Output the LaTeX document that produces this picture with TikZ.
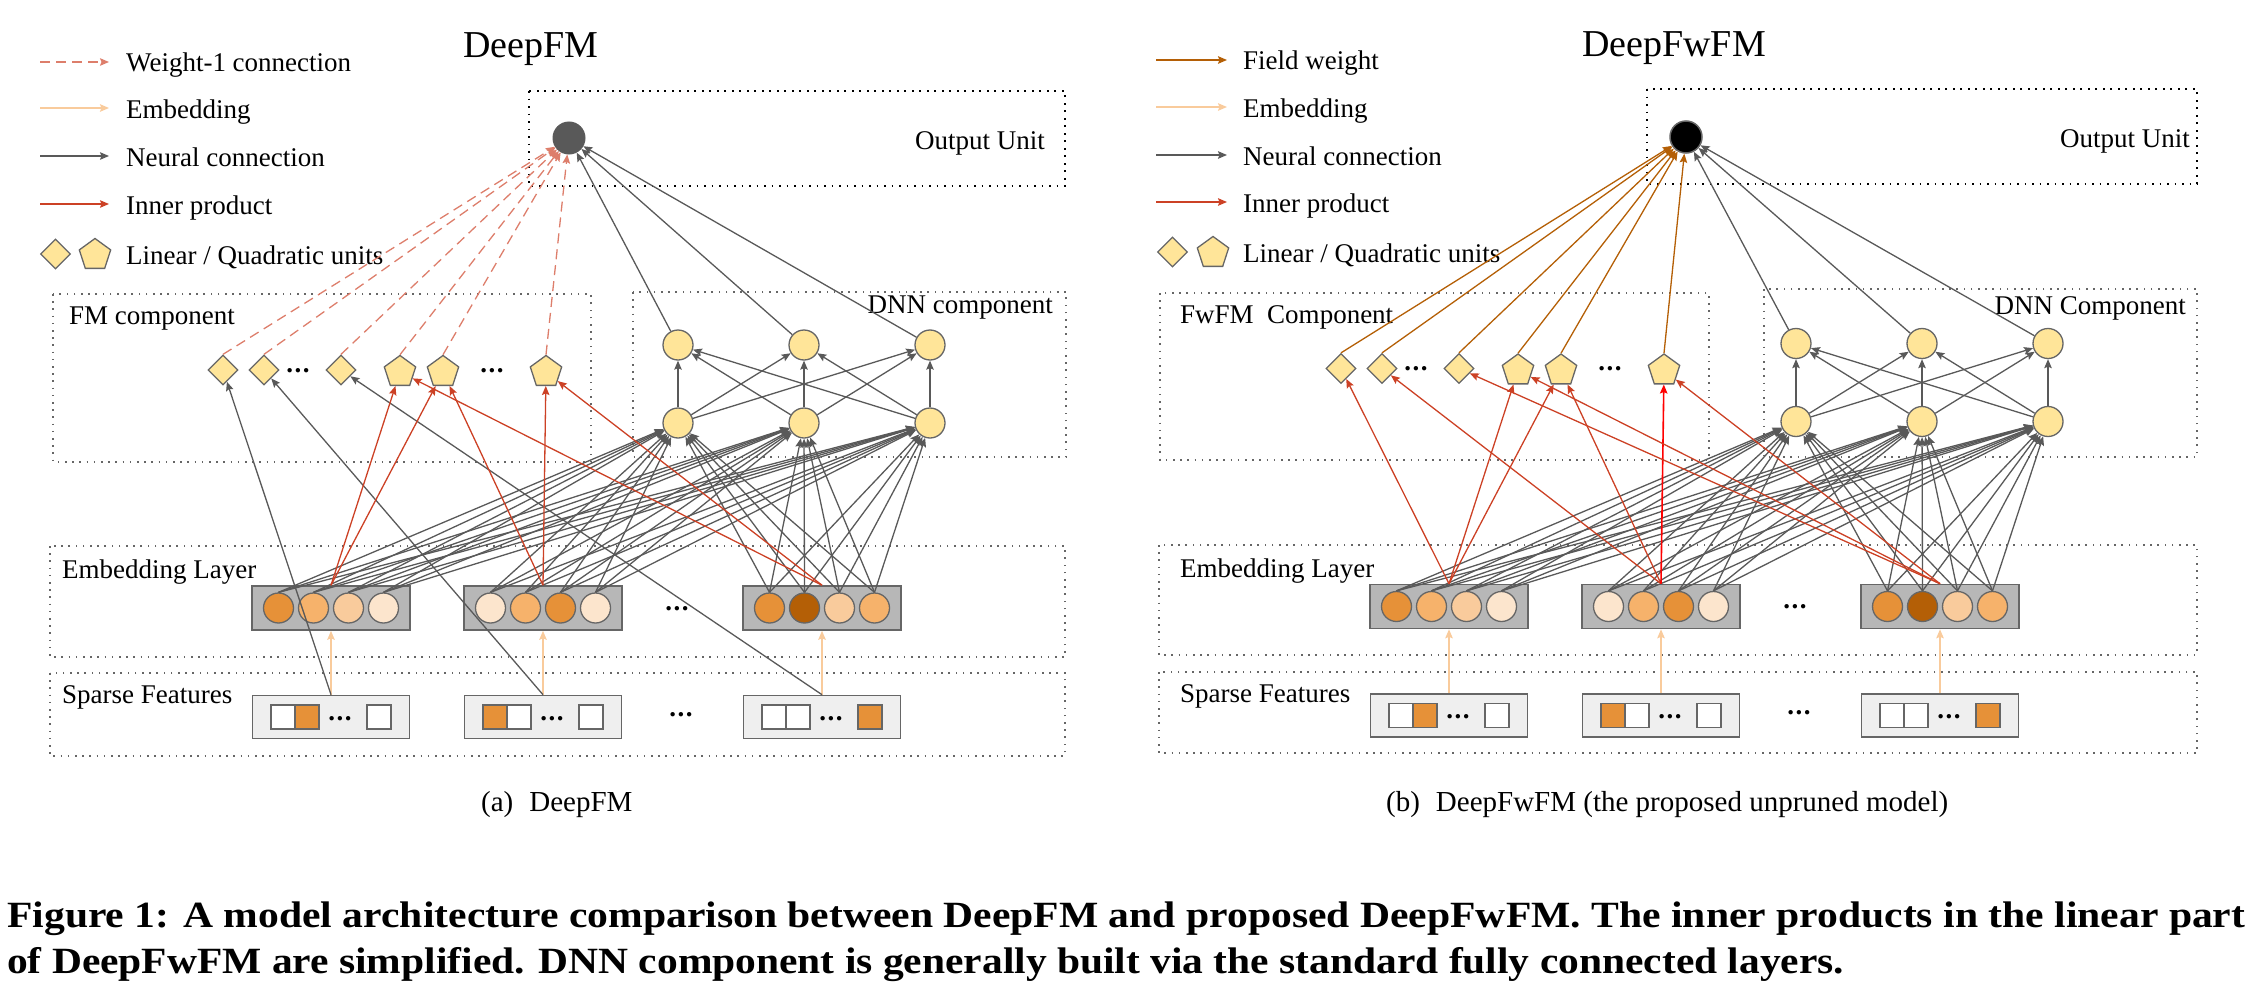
\documentclass[tikz,border=0pt]{standalone}
\usepackage{fontspec}
\usepackage{graphicx}
\setmainfont{Liberation Serif}
\usetikzlibrary{shapes.geometric,arrows.meta}
\definecolor{ngray}{HTML}{595959}
\definecolor{bgray}{HTML}{666666}
\definecolor{ipred}{HTML}{CC4125}
\definecolor{wsalmon}{HTML}{DD7E6B}
\definecolor{embor}{HTML}{F9CB9C}
\definecolor{fbrown}{HTML}{B45F06}
\definecolor{nyellow}{HTML}{FFE599}
\definecolor{oDark}{HTML}{E69138}
\definecolor{oMid}{HTML}{F6B26B}
\definecolor{oLight}{HTML}{F9CB9C}
\definecolor{oPale}{HTML}{FCE5CD}
\definecolor{oBrown}{HTML}{B45F06}
\definecolor{eboxc}{HTML}{B7B7B7}
\definecolor{sboxc}{HTML}{EFEFEF}
\newcommand\ellipdots{.\kern1.5pt.\kern1.5pt.}
\tikzset{
  lbl/.style={font=\fontsize{27}{32}\selectfont, inner sep=0pt},
  ttl/.style={font=\fontsize{38}{42}\selectfont, inner sep=0pt},
  ellip/.style={font=\fontsize{27}{32}\selectfont\bfseries, inner sep=0pt},
  groupbox/.style={draw=bgray, line width=1.6pt, dash pattern=on 1.6pt off 5.6pt},
  outbox/.style={draw=black, line width=1.9pt, dash pattern=on 1.9pt off 5.6pt},
  hunit/.style={circle, draw=bgray, fill=nyellow, line width=1.3pt, minimum size=30pt, inner sep=0pt},
  linu/.style={diamond, aspect=1, draw=bgray, fill=nyellow, line width=1.3pt, minimum size=30pt, inner sep=0pt},
  quadu/.style={regular polygon, regular polygon sides=5, draw=bgray, fill=nyellow, line width=1.3pt, minimum size=33pt, inner sep=0pt},
  embc/.style={circle, draw=bgray, line width=1.3pt, minimum size=30pt, inner sep=0pt},
  ebx/.style={rectangle, draw=bgray, fill=eboxc, line width=1.6pt, minimum width=158pt, minimum height=44pt, inner sep=0pt},
  sbx/.style={rectangle, draw=bgray, fill=sboxc, line width=1.6pt, minimum width=157pt, minimum height=43pt, inner sep=0pt},
  sparsesq/.style={rectangle, draw=bgray, line width=1.3pt, minimum size=24pt, inner sep=0pt},
  arr/.style={-{Stealth[length=9pt,width=7.5pt,inset=1.5pt]}},
  nconn/.style={arr, draw=ngray, line width=1.3pt},
  ipline/.style={arr, draw=ipred, line width=1.3pt},
  wconn/.style={arr, draw=wsalmon, line width=1.3pt, dash pattern=on 10pt off 6pt},
  fconn/.style={arr, draw=fbrown, line width=1.3pt},
  econn/.style={arr, draw=embor, line width=1.6pt},
}
\newcommand\netcore[1]{%
  % FM / FwFM row
  \node[linu] (#1D1) at (223,370) {};
  \node[linu] (#1D2) at (264,370) {};
  \node[ellip, anchor=base] (#1Da) at (298,372) {\ellipdots};
  \node[linu] (#1D3) at (341,370) {};
  \node[quadu] (#1P1) at (400,372) {};
  \node[quadu] (#1P2) at (443,372) {};
  \node[ellip, anchor=base] (#1Pa) at (492,372) {\ellipdots};
  \node[quadu] (#1P3) at (546,372) {};
  % DNN
  \foreach \i/\x in {1/678,2/804,3/930} {
    \node[hunit] (#1H\i) at (\x,423) {};
    \node[hunit] (#1T\i) at (\x,345) {};
  }
  % embedding boxes
  \foreach \b/\x/\ca/\cb/\cc/\cd in {1/331/oDark/oMid/oLight/oPale, 2/543/oPale/oMid/oDark/oPale, 3/822/oDark/oBrown/oLight/oMid} {
    \node[ebx] (#1E\b) at (\x,608) {};
    \node[embc, fill=\ca] (#1C\b1) at (\x-52.5,608) {};
    \node[embc, fill=\cb] (#1C\b2) at (\x-17.5,608) {};
    \node[embc, fill=\cc] (#1C\b3) at (\x+17.5,608) {};
    \node[embc, fill=\cd] (#1C\b4) at (\x+52.5,608) {};
  }
  \node[ellip, anchor=base] (#1Eg) at (677,610) {\ellipdots};
  % sparse boxes
  \foreach \b/\x/\fa/\fb/\fc in {1/331/white/oDark/white, 2/543/oDark/white/white, 3/822/white/white/oDark} {
    \node[sbx] (#1S\b) at (\x,717) {};
    \node[sparsesq, fill=\fa] (#1Q\b1) at (\x-48,717) {};
    \node[sparsesq, fill=\fb] (#1Q\b2) at (\x-24,717) {};
    \node[ellip, anchor=base] (#1Q\b3) at (\x+9,720) {\ellipdots};
    \node[sparsesq, fill=\fc] (#1Q\b4) at (\x+48,717) {};
    \draw[econn] (#1S\b.north) -- (#1E\b.south);
  }
  \node[ellip, anchor=base] (#1Sg) at (681,716) {\ellipdots};
  % neural connections embedding -> DNN
  \foreach \b in {1,2,3} {
    \foreach \c in {1,2,3,4} {
      \foreach \h in {1,2,3} {
        \draw[nconn] (#1C\b\c.north) -- (#1H\h);
      }
    }
  }
  \foreach \a in {1,2,3} {
    \foreach \t in {1,2,3} {
      \draw[nconn] (#1H\a) -- (#1T\t);
    }
    \draw[nconn] (#1T\a) -- (#1O);
  }
}
\begin{document}
\begin{tikzpicture}[x=1pt,y=-1pt]
\useasboundingbox (0,0) rectangle (2254,998);

% group boxes
\draw[outbox] (529,91) rectangle (1065,186);
\draw[groupbox] (53,294) rectangle (591,462);
\draw[groupbox] (633,292) rectangle (1066,457);
\draw[groupbox] (50,546) rectangle (1065,657);
\draw[groupbox] (50,673) rectangle (1065,756);
\draw[outbox] (1647,89) rectangle (2197,184);
\draw[groupbox] (1160,293) rectangle (1709,460);
\draw[groupbox] (1764,289) rectangle (2197,457);
\draw[groupbox] (1159,545) rectangle (2197,655);
\draw[groupbox] (1159,672) rectangle (2197,753);

% titles and labels
\node[ttl, anchor=base west] (LTitle) at (463,58) {DeepFM};
\node[ttl, anchor=base west] (RTitle) at (1582,57) {DeepFwFM};
\node[lbl, anchor=base west] (LOut) at (915,149) {Output Unit};
\node[lbl, anchor=base west] (ROut) at (2060,147) {Output Unit};
\node[lbl, anchor=base west] (LFMl) at (69,324) {FM component};
\node[lbl, anchor=base west] (RFMl) at (1180,323) {FwFM\ \ Component};
\node[lbl, anchor=base east] (LDNNl) at (1053,313) {DNN component};
\node[lbl, anchor=base east] (RDNNl) at (2186,314) {DNN Component};
\node[lbl, anchor=base west] (LEl) at (62,578) {Embedding Layer};
\node[lbl, anchor=base west] (REl) at (1180,577) {Embedding Layer};
\node[lbl, anchor=base west] (LSl) at (62,703) {Sparse Features};
\node[lbl, anchor=base west] (RSl) at (1180,702) {Sparse Features};

% legend left
\coordinate (LLa1) at (40,62);  \coordinate (LLb1) at (109,62);
\coordinate (LLa2) at (40,108); \coordinate (LLb2) at (109,108);
\coordinate (LLa3) at (40,156); \coordinate (LLb3) at (109,156);
\coordinate (LLa4) at (40,204); \coordinate (LLb4) at (109,204);
\draw[wconn] (LLa1) -- (LLb1);
\draw[econn] (LLa2) -- (LLb2);
\draw[nconn] (LLa3) -- (LLb3);
\draw[ipline] (LLa4) -- (LLb4);
\node[lbl, anchor=base west] (LLt1) at (126,72) {Weight-1 connection};
\node[lbl, anchor=base west] (LLt2) at (126,118) {Embedding};
\node[lbl, anchor=base west] (LLt3) at (126,166) {Neural connection};
\node[lbl, anchor=base west] (LLt4) at (126,214) {Inner product};
\node[linu] (LLd) at (55.5,254) {};
\node[quadu] (LLp) at (95,255) {};
\node[lbl, anchor=base west] (LLt5) at (126,264) {Linear / Quadratic units};

% legend right
\coordinate (RLa1) at (1156,60);  \coordinate (RLb1) at (1227,60);
\coordinate (RLa2) at (1156,107); \coordinate (RLb2) at (1227,107);
\coordinate (RLa3) at (1156,155); \coordinate (RLb3) at (1227,155);
\coordinate (RLa4) at (1156,202); \coordinate (RLb4) at (1227,202);
\draw[fconn] (RLa1) -- (RLb1);
\draw[econn] (RLa2) -- (RLb2);
\draw[nconn] (RLa3) -- (RLb3);
\draw[ipline] (RLa4) -- (RLb4);
\node[lbl, anchor=base west] (RLt1) at (1243,70) {Field weight};
\node[lbl, anchor=base west] (RLt2) at (1243,117) {Embedding};
\node[lbl, anchor=base west] (RLt3) at (1243,165) {Neural connection};
\node[lbl, anchor=base west] (RLt4) at (1243,212) {Inner product};
\node[linu] (RLd) at (1172.5,252) {};
\node[quadu] (RLp) at (1213,253) {};
\node[lbl, anchor=base west] (RLt5) at (1243,262) {Linear / Quadratic units};

% output units
\node[circle, fill=ngray, draw=ngray, line width=1pt, minimum size=32pt, inner sep=0pt] (LO) at (569,138) {};
\node[circle, fill=black, draw=bgray, line width=1.5pt, minimum size=32pt, inner sep=0pt] (RO) at (1686,137) {};

% networks
\netcore{L}
\begin{scope}[shift={(1118,-1.5)}]
\netcore{R}
\end{scope}

% DeepFM specific connections
\draw[nconn] (LS1.north) -- (LD1);
\draw[nconn] (LS2.north) -- (LD2);
\draw[nconn] (LS3.north) -- (LD3);
\draw[ipline] (LE1.north) -- (LP1);
\draw[ipline] (LE1.north) -- (LP2);
\draw[ipline] (LE2.north) -- (LP2);
\draw[ipline] (LE2.north) -- (LP3);
\draw[ipline] (LE3.north) -- (LP1);
\draw[ipline] (LE3.north) -- (LP3);
\foreach \n in {D1,D2,D3,P1,P2,P3} {
  \draw[wconn] (L\n.north) -- (LO);
}

% DeepFwFM specific connections
\draw[ipline] (RE1.north) -- (RD1);
\draw[ipline] (RE1.north) -- (RP1);
\draw[ipline] (RE1.north) -- (RP2);
\draw[ipline] (RE2.north) -- (RD2);
\draw[ipline] (RE2.north) -- (RP2);
\draw[ipline, draw=red, line width=1.6pt] (RE2.north) -- (RP3);
\draw[ipline] (RE3.north) -- (RD3);
\draw[ipline] (RE3.north) -- (RP1);
\draw[ipline] (RE3.north) -- (RP3);
\foreach \n in {D1,D2,D3,P1,P2,P3} {
  \draw[fconn] (R\n.north) -- (RO);
}

% captions
\node[anchor=base west, inner sep=0pt, font=\fontsize{29}{34}\selectfont] (CapA) at (481,811) {(a)\hspace{0.55em}DeepFM};
\node[anchor=base west, inner sep=0pt, font=\fontsize{29}{34}\selectfont] (CapB) at (1386,811) {(b)\hspace{0.55em}DeepFwFM (the proposed unpruned model)};
\node[anchor=base west, inner sep=0pt, font=\fontsize{37}{42}\selectfont\bfseries] (Cap1) at (7,927) {\resizebox{2238pt}{\height}{Figure 1: A model architecture comparison between DeepFM and proposed DeepFwFM. The inner products in the linear part}};
\node[anchor=base west, inner sep=0pt, font=\fontsize{37}{42}\selectfont\bfseries] (Cap2) at (7,973) {\resizebox{1837pt}{\height}{of DeepFwFM are simplified. DNN component is generally built via the standard fully connected layers.}};
\end{tikzpicture}
\end{document}
